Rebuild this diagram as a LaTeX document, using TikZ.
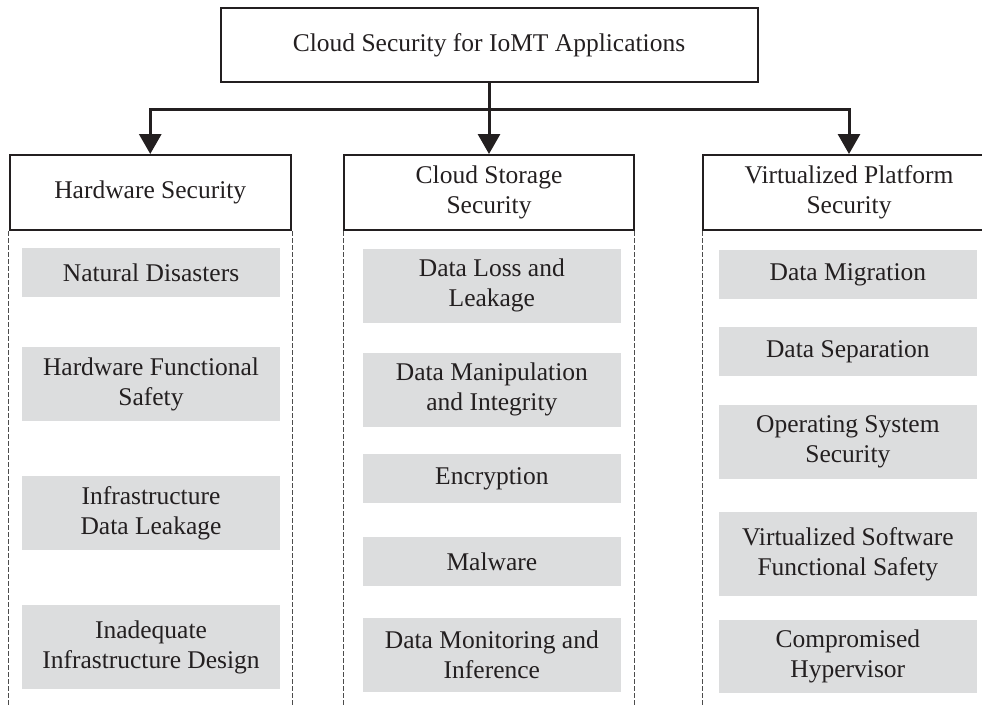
\documentclass[tikz,border=0pt]{standalone}
\usepackage{fontspec}
\setmainfont{Liberation Serif}
\usetikzlibrary{arrows.meta}
\definecolor{itemgray}{RGB}{220,221,222}
\definecolor{ink}{RGB}{35,31,32}
\tikzset{
  base/.style={font=\fontsize{25.5}{30}\selectfont, text=ink, align=center, inner sep=0pt},
  topbox/.style={base, draw=ink, line width=2pt},
  catbox/.style={base, draw=ink, line width=2pt, minimum height=75pt},
  item/.style={base, fill=itemgray, minimum width=258pt},
  conn/.style={draw=ink, line width=3pt},
  arr/.style={conn, -{Triangle[width=22pt,length=20pt]}},
  guide/.style={draw=gray!60!black, line width=0.9pt, dash pattern=on 5pt off 2pt}
}
\begin{document}
\begin{tikzpicture}[x=1pt,y=-1pt]
\useasboundingbox (0,0) rectangle (982,705);
\begin{scope}
\clip (0,0) rectangle (982,705);
% top
\node[topbox, minimum width=537pt, minimum height=74pt] (top) at (489,45) {Cloud Security for IoMT Applications};
% categories
\node[catbox, minimum width=281.5pt] (hw) at (150.25,192.5) {Hardware Security};
\node[catbox, minimum width=289.5pt] (cs) at (489,192.5) {Cloud Storage\\Security};
\node[catbox, minimum width=292pt] (vp) at (849,192.5) {Virtualized Platform\\Security};
% connectors
\coordinate (bus) at (489,109);
\draw[conn] (top.south) -- (bus);
\draw[arr] (bus) -| (hw.north);
\draw[arr] (bus) -- (cs.north);
\draw[arr] (bus) -| (vp.north);
% guide lines
\draw[guide] (hw.south west) -- ++(0,480);
\draw[guide] (hw.south east) -- ++(0,480);
\draw[guide] (cs.south west) -- ++(0,480);
\draw[guide] (cs.south east) -- ++(0,480);
\draw[guide] (vp.south west) -- ++(0,480);
% hardware items
\node[item, minimum height=48.4pt] (h1) at (151,272.5) {Natural Disasters};
\node[item, minimum height=73.4pt] (h2) at (151,384) {Hardware Functional\\Safety};
\node[item, minimum height=74pt] (h3) at (151,513) {Infrastructure\\Data Leakage};
\node[item, minimum height=83.7pt] (h4) at (151,647) {Inadequate\\Infrastructure Design};
% cloud storage items
\node[item, minimum height=73.7pt] (c1) at (491.85,285.85) {Data Loss and\\Leakage};
\node[item, minimum height=73.7pt] (c2) at (491.85,389.85) {Data Manipulation\\and Integrity};
\node[item, minimum height=48.7pt] (c3) at (491.85,478.35) {Encryption};
\node[item, minimum height=48.7pt] (c4) at (491.85,561.35) {Malware};
\node[item, minimum height=74.3pt] (c5) at (491.85,654.85) {Data Monitoring and\\Inference};
% virtualized items
\node[item, minimum height=49pt] (v1) at (847.85,274.5) {Data Migration};
\node[item, minimum height=48.7pt] (v2) at (847.85,351.35) {Data Separation};
\node[item, minimum height=73.7pt] (v3) at (847.85,441.85) {Operating System\\Security};
\node[item, minimum height=83.4pt] (v4) at (847.85,554) {Virtualized Software\\Functional Safety};
\node[item, minimum height=73.3pt] (v5) at (847.85,656.65) {Compromised\\Hypervisor};
\end{scope}
\end{tikzpicture}
\end{document}
